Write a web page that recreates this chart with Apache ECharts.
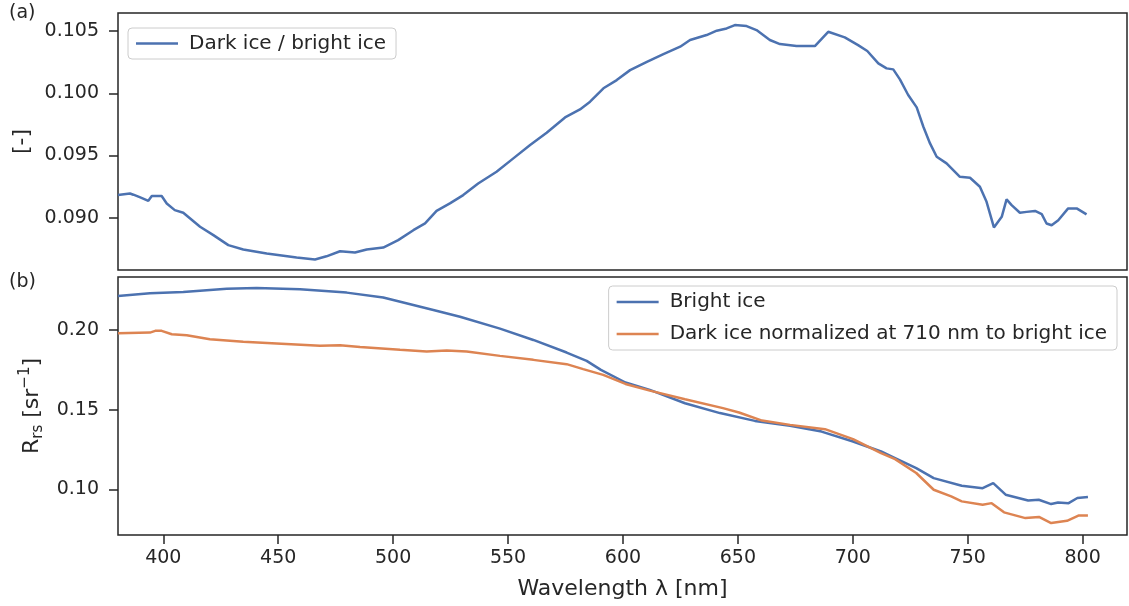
<!DOCTYPE html>
<html><head><meta charset="utf-8">
<script src="https://cdn.jsdelivr.net/npm/echarts@6/dist/echarts.min.js"></script>
<style>html,body{margin:0;padding:0;background:#fff}#c{width:1129px;height:606px}</style>
</head><body><div id="c"></div>
<script>
// (a) Dark ice / bright ice ratio : [wavelength nm, value]
const ratio = [[380.3,0.09182],[385.5,0.09195],[387,0.09185],[390,0.09163],[393.5,0.09136],[395,0.09174],[399.3,0.09174],[401.5,0.09115],[405,0.09061],[408.7,0.0904],[416,0.08927],[421.8,0.0886],[428.3,0.0878],[434.8,0.08745],[445,0.08713],[458,0.08681],[466,0.08665],[471,0.0869],[476.9,0.08731],[483.4,0.0872],[488.5,0.08745],[495.7,0.0876],[502.2,0.0882],[508.8,0.089],[513.9,0.08954],[518.9,0.09055],[524.7,0.09115],[530.5,0.09182],[537,0.09275],[545,0.09369],[552.3,0.09477],[559.6,0.09584],[566.8,0.09683],[574.8,0.09806],[581.3,0.0987],[585.7,0.09932],[591.5,0.1004],[597.3,0.10106],[603.1,0.10186],[610.4,0.10253],[617.6,0.10315],[624.9,0.10374],[629.2,0.10428],[636.4,0.10468],[640.8,0.10503],[645.1,0.10521],[648.7,0.10548],[653.8,0.1054],[658.1,0.10508],[663.9,0.10428],[668.3,0.10395],[675.5,0.10379],[683.5,0.10379],[689.3,0.10494],[696.5,0.10449],[702.3,0.10387],[706.3,0.1034],[711.1,0.1024],[714.7,0.102],[717.6,0.10192],[720.5,0.10112],[724.1,0.09986],[727.8,0.09887],[730.7,0.09731],[733.6,0.09597],[736.5,0.0949],[740.8,0.09437],[746.6,0.09329],[751,0.09321],[755.3,0.09249],[758.2,0.09128],[761.4,0.08922],[764.8,0.09007],[766.9,0.09147],[769.1,0.09101],[772.7,0.0904],[775.6,0.09047],[779.3,0.09055],[782.2,0.09029],[784.3,0.08954],[786.5,0.0894],[789.4,0.0898],[793.7,0.09075],[797.4,0.09075],[801.7,0.09027]];
// (b) Bright ice Rrs
const bright = [[380.3,0.2213],[394.2,0.2230],[408.7,0.2238],[427.6,0.2259],[440.6,0.2263],[459.5,0.2255],[479.8,0.2234],[495.7,0.2203],[517.5,0.2125],[529.1,0.2083],[546.5,0.2008],[561,0.1937],[575.5,0.1858],[584.2,0.1806],[590.4,0.1749],[601.1,0.1670],[611.7,0.1624],[627,0.1540],[642.2,0.1478],[657.4,0.1429],[672.7,0.1398],[686.4,0.1362],[700.1,0.1300],[712.3,0.1237],[718.4,0.1196],[727.6,0.1133],[735.2,0.1070],[747.4,0.1022],[756.5,0.1007],[761.1,0.1039],[766.5,0.0966],[776.3,0.0930],[780.9,0.0934],[786.3,0.0907],[789.3,0.0917],[793.9,0.0913],[797.7,0.0945],[802.3,0.0951]];
// (b) Dark ice normalized at 710 nm
const darkNorm = [[380.3,0.1979],[394.2,0.1983],[396.5,0.1994],[399.3,0.1994],[403.7,0.1973],[410.2,0.1967],[420.3,0.1942],[434.8,0.1925],[449.3,0.1914],[468.2,0.1900],[476.9,0.1904],[485.6,0.1892],[503,0.1875],[514.6,0.1864],[523.3,0.1870],[532,0.1864],[546.5,0.1837],[561,0.1812],[575.5,0.1785],[582.7,0.1754],[591.4,0.1718],[601.1,0.1661],[611.7,0.1619],[627,0.1565],[643.5,0.1509],[650.5,0.1482],[660.5,0.1431],[672.7,0.1404],[687.9,0.1377],[700.1,0.1315],[712.3,0.1227],[718.4,0.1189],[727.6,0.1102],[735.2,0.0997],[742.8,0.0955],[747.4,0.0924],[756.5,0.0903],[760.4,0.0913],[765.8,0.0855],[775.1,0.0819],[781,0.0826],[786.3,0.0788],[793.2,0.0802],[798.4,0.0836],[802.3,0.0836]];
const xTicks = [400,450,500,550,600,650,700,750,800];
const topTicks = [0.090,0.095,0.100,0.105];
const botTicks = [0.10,0.15,0.20];
const seriesNames = ['Dark ice / bright ice','Bright ice','Dark ice normalized at 710 nm to bright ice'];

const FONT = 'DejaVu Sans';
const TXT = '#262626';
const chart = echarts.init(document.getElementById('c'), null, {renderer:'canvas'});
const baseX = (idx, showLabels) => ({
  type:'value', gridIndex:idx, min:380.3, max:819.3,
  axisLine:{show:false},
  axisTick:{show:showLabels, customValues:xTicks, length:9, lineStyle:{color:TXT,width:1.5}},
  axisLabel:{show:showLabels, customValues:xTicks, color:TXT, fontFamily:FONT, fontSize:19, margin:14},
  splitLine:{show:false}
});
const baseY = (idx, mn, mx, ticks, dec) => ({
  type:'value', gridIndex:idx, min:mn, max:mx,
  axisLine:{show:false},
  axisTick:{show:true, customValues:ticks, length:9, lineStyle:{color:TXT,width:1.5}},
  axisLabel:{customValues:ticks, color:TXT, fontFamily:FONT, fontSize:19, margin:19, formatter:v=>v.toFixed(dec)},
  splitLine:{show:false}
});
const option = {
  animation:false,
  backgroundColor:'#fff',
  grid:[
    {left:118, top:13, width:1009, height:257, show:true, borderColor:TXT, borderWidth:1.5, backgroundColor:'transparent'},
    {left:118, top:277, width:1009, height:258, show:true, borderColor:TXT, borderWidth:1.5, backgroundColor:'transparent'}
  ],
  xAxis:[
    baseX(0,false),
    Object.assign(baseX(1,true), {name:'Wavelength λ [nm]', nameLocation:'middle', nameGap:43, nameTextStyle:{color:TXT, fontFamily:FONT, fontSize:22}})
  ],
  yAxis:[
    Object.assign(baseY(0,0.0858,0.10645,topTicks,3), {name:'[-]', nameLocation:'middle', nameGap:83, nameTextStyle:{color:TXT, fontFamily:FONT, fontSize:22}}),
    Object.assign(baseY(1,0.0713,0.2332,botTicks,2), {
      name:'{m|R}{sub|rs}{m| [sr}{sup|−1}{m|]}', nameLocation:'middle', nameGap:65,
      nameTextStyle:{color:TXT, fontFamily:FONT, fontSize:22,
        rich:{
          m:{fontFamily:FONT, fontSize:22, color:TXT, lineHeight:28, verticalAlign:'middle'},
          sub:{fontFamily:FONT, fontSize:15, color:TXT, lineHeight:28, verticalAlign:'bottom'},
          sup:{fontFamily:FONT, fontSize:15, color:TXT, lineHeight:28, verticalAlign:'top'}
        }}
    })
  ],
  legend:[
    {data:[seriesNames[0]], left:128, top:28, orient:'vertical', icon:'rect', itemWidth:42, itemHeight:2.5,
     itemGap:10, padding:[5,10,5,8], backgroundColor:'rgba(255,255,255,0.8)', borderColor:'#cccccc', borderWidth:1, borderRadius:4,
     textStyle:{color:TXT, fontFamily:FONT, fontSize:20, lineHeight:21, padding:[0,0,0,6]}},
    {data:[seriesNames[1],seriesNames[2]], right:12, top:286, orient:'vertical', icon:'rect', itemWidth:42, itemHeight:2.5,
     itemGap:10, padding:[5,10,5,8], backgroundColor:'rgba(255,255,255,0.8)', borderColor:'#cccccc', borderWidth:1, borderRadius:4,
     textStyle:{color:TXT, fontFamily:FONT, fontSize:20, lineHeight:22, padding:[0,0,0,6]}}
  ],
  graphic:[
    {type:'text', left:9, top:4, style:{text:'(a)', fill:TXT, font:'19px "DejaVu Sans"'}},
    {type:'text', left:9, top:273, style:{text:'(b)', fill:TXT, font:'19px "DejaVu Sans"'}}
  ],
  series:[
    {name:seriesNames[0], type:'line', xAxisIndex:0, yAxisIndex:0, data:ratio, showSymbol:false, symbol:'none', smooth:false, lineStyle:{color:'#4c72b0', width:2.5}, itemStyle:{color:'#4c72b0'}},
    {name:seriesNames[1], type:'line', xAxisIndex:1, yAxisIndex:1, data:bright, showSymbol:false, symbol:'none', lineStyle:{color:'#4c72b0', width:2.5}, itemStyle:{color:'#4c72b0'}},
    {name:seriesNames[2], type:'line', xAxisIndex:1, yAxisIndex:1, data:darkNorm, showSymbol:false, symbol:'none', lineStyle:{color:'#dd8452', width:2.5}, itemStyle:{color:'#dd8452'}}
  ]
};
chart.setOption(option);
</script>
</body></html>
